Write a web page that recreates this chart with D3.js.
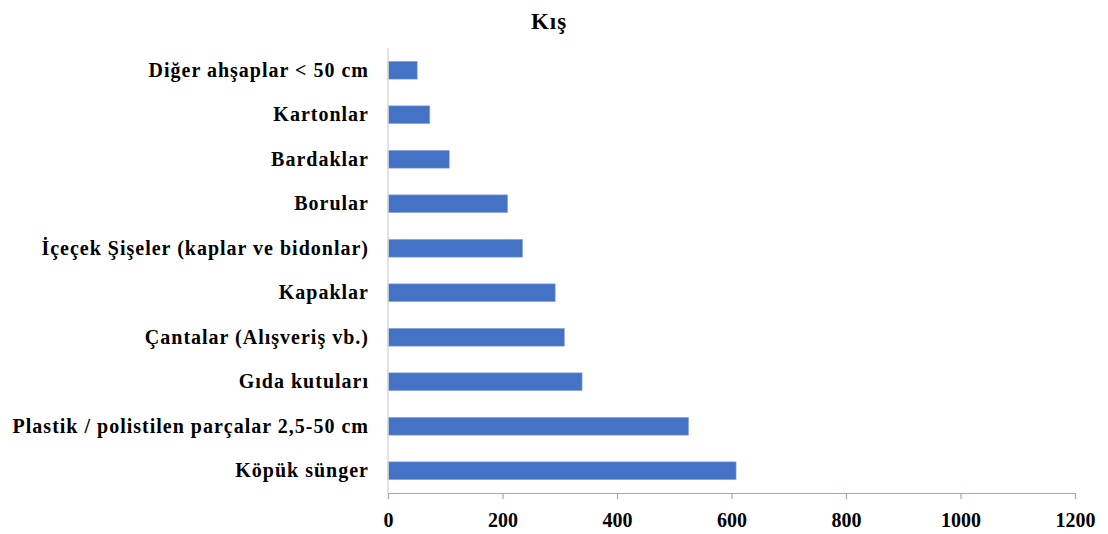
<!DOCTYPE html>
<html>
<head>
<meta charset="utf-8">
<script src="https://cdn.jsdelivr.net/npm/d3@7/dist/d3.min.js"></script>
<style>
  html, body { margin: 0; padding: 0; background: #fff; }
  svg { display: block; }
  text { font-family: "Liberation Serif", "Times New Roman", serif; font-weight: bold; fill: #000; }
</style>
</head>
<body>
<svg id="chart" width="1108" height="534"></svg>
<script>
// Categories, top to bottom
const categories = [
  "Diğer ahşaplar < 50 cm",
  "Kartonlar",
  "Bardaklar",
  "Borular",
  "İçeçek Şişeler (kaplar ve bidonlar)",
  "Kapaklar",
  "Çantalar (Alışveriş vb.)",
  "Gıda kutuları",
  "Plastik / polistilen parçalar 2,5-50 cm",
  "Köpük sünger"
];
const values = [51, 73, 107, 209, 235, 292, 308, 339, 525, 608];
const xTicks = [0, 200, 400, 600, 800, 1000, 1200];
const title = "Kış";

const svg = d3.select("#chart");
const margin = { left: 388, right: 1075, top: 48, bottom: 493 };

const x = d3.scaleLinear().domain([0, 1200]).range([margin.left, margin.right]);
const y = d3.scaleBand().domain(categories).range([margin.top, margin.bottom]).paddingInner(0.6).paddingOuter(0.3);

// Title
svg.append("text")
  .attr("x", 549).attr("y", 29)
  .attr("text-anchor", "middle")
  .attr("font-size", 23)
  .attr("letter-spacing", 1)
  .text(title);

// Bars
svg.append("g").selectAll("rect")
  .data(categories)
  .join("rect")
  .attr("x", x(0))
  .attr("y", d => y(d))
  .attr("width", (d, i) => x(values[i]) - x(0))
  .attr("height", y.bandwidth())
  .attr("fill", "#4472c4")
  .attr("stroke", "#8fa9dc")
  .attr("stroke-width", 0.6);

// Vertical category axis
const yAxis = svg.append("g")
  .attr("transform", `translate(${margin.left},0)`)
  .call(d3.axisLeft(y).tickSize(0).tickPadding(19));
yAxis.select(".domain").attr("stroke", "#d9d9d9").attr("stroke-width", 1.5)
  .attr("d", `M0,${margin.top}V${margin.bottom}`);
yAxis.selectAll("text")
  .attr("font-size", 20)
  .attr("letter-spacing", 1)
  .attr("font-family", "Liberation Serif, Times New Roman, serif")
  .attr("font-weight", "bold")
  .attr("fill", "#000");

// Horizontal value axis
const xAxis = svg.append("g")
  .attr("transform", `translate(0,${margin.bottom})`)
  .call(d3.axisBottom(x).tickValues(xTicks).tickSize(6).tickSizeOuter(0).tickPadding(14).tickFormat(d3.format("d")));
xAxis.select(".domain").attr("stroke", "#8fa9dc").attr("stroke-width", 1.2);
xAxis.selectAll(".tick line").attr("stroke", "#8fa9dc").attr("stroke-width", 1.2);
xAxis.selectAll("text")
  .attr("font-size", 20)
  .attr("font-family", "Liberation Serif, Times New Roman, serif")
  .attr("font-weight", "bold")
  .attr("fill", "#000");
</script>
</body>
</html>
